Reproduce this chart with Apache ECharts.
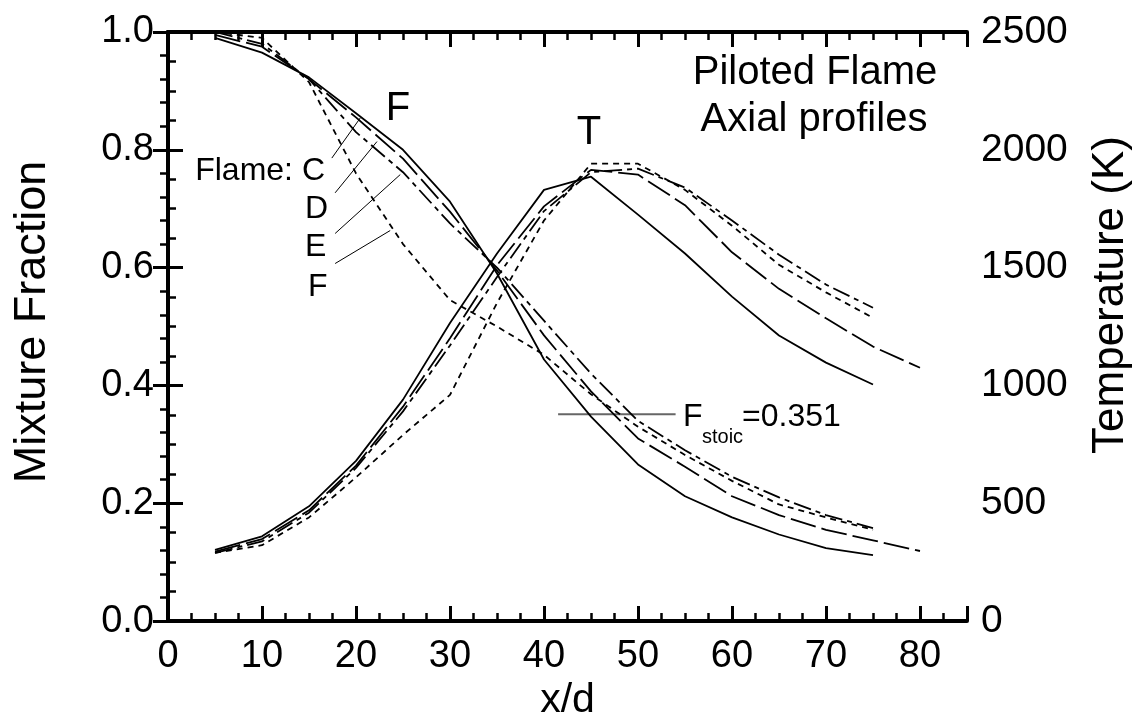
<!DOCTYPE html>
<html>
<head>
<meta charset="utf-8">
<script src="https://cdn.jsdelivr.net/npm/echarts@6/dist/echarts.min.js"></script>
<style>
html,body{margin:0;padding:0;background:#fff;}
#c{width:1136px;height:726px;}
</style>
</head>
<body>
<div id="c"></div>
<script>
// x/d stations
const xd = [5,10,15,20,25,30,35,40,45,50,55,60,65,70,75];
const xdD = [5,10,15,20,25,30,35,40,45,50,55,60,65,70,75,80];

// Mixture fraction profiles (flames C, D, E, F)
const fC = [0.99,0.965,0.923,0.862,0.80,0.712,0.59,0.444,0.347,0.266,0.212,0.176,0.147,0.124,0.112];
const fD = [0.995,0.975,0.92,0.855,0.785,0.695,0.595,0.485,0.39,0.31,0.262,0.212,0.18,0.155,0.137,0.119];
const fE = [1.0,0.98,0.92,0.83,0.762,0.675,0.60,0.51,0.42,0.34,0.29,0.245,0.21,0.18,0.158];
const fF = [1.0,0.99,0.915,0.76,0.64,0.545,0.50,0.452,0.385,0.33,0.282,0.238,0.198,0.176,0.155];

// Temperature profiles (K)
const tC = [302,360,487,680,940,1265,1560,1830,1886,1725,1560,1377,1212,1097,1004];
const tD = [295,348,470,660,910,1200,1510,1760,1915,1895,1765,1565,1410,1285,1165,1075];
const tE = [290,338,460,650,890,1170,1460,1740,1905,1920,1840,1700,1555,1428,1330];
const tF = [290,322,440,610,790,960,1350,1700,1941,1941,1830,1678,1512,1395,1287];

// stoichiometric mixture fraction marker
const fStoic = 0.351;
const stoicX = [41.5, 54];

// label leader lines in data units
const leaderC = [[17.43,0.786],[20.45,0.854]];
const leaderD = [[17.78,0.727],[22.23,0.814]];
const leaderE = [[17.78,0.658],[24.71,0.758]];
const leaderF = [[17.78,0.607],[23.64,0.663]];

// axis tick labels
const xTicks = [0,10,20,30,40,50,60,70,80];

const FONT = 'Liberation Sans, Arial, sans-serif';
const zip = (xs, ys) => xs.map((x,i)=>[x, ys[i]]);

const styles = {
  C: {type:'solid'},
  D: {type:[26,6]},
  E: {type:[18,5,5,5]},
  F: {type:[6,5]}
};

function curve(name, xs, ys, yi, st){
  return {
    name, type:'line', xAxisIndex:0, yAxisIndex:yi, data:zip(xs,ys),
    showSymbol:false, symbol:'none', smooth:false, z:5,
    lineStyle:{color:'#000', width:1.8, type:st.type}
  };
}
function leader(pts){
  return {type:'line', xAxisIndex:0, yAxisIndex:0, data:pts, showSymbol:false, symbol:'none',
    lineStyle:{color:'#000', width:1}, z:4, silent:true};
}

const axisLineStyle = {lineStyle:{color:'#000', width:4}};
const chart = echarts.init(document.getElementById('c'), null, {renderer:'canvas'});

const option = {
  animation:false,
  backgroundColor:'#fff',
  grid:{left:168, top:32, right:169, bottom:104, containLabel:false},
  xAxis:[
    {type:'value', position:'bottom', min:0, max:85, interval:10,
     axisLine:axisLineStyle, axisTick:{inside:true, length:15, lineStyle:{width:3,color:'#000'}},
     splitLine:{show:false},
     axisLabel:{color:'#000', fontSize:38, fontFamily:FONT, margin:16,
       formatter:v=> xTicks.includes(v) ? String(v) : ''},
     name:'x/d', nameLocation:'middle', nameGap:58,
     nameTextStyle:{color:'#000', fontSize:41, fontFamily:FONT}},
    {type:'value', position:'bottom', min:0, max:85, interval:2.5,
     axisLine:{show:false}, axisTick:{inside:true, length:8, lineStyle:{width:2.5,color:'#000'}},
     axisLabel:{show:false}, splitLine:{show:false}},
    {type:'value', position:'top', min:0, max:85, interval:10,
     axisLine:axisLineStyle, axisTick:{inside:true, length:15, lineStyle:{width:3,color:'#000'}},
     axisLabel:{show:false}, splitLine:{show:false}},
    {type:'value', position:'top', min:0, max:85, interval:2.5,
     axisLine:{show:false}, axisTick:{inside:true, length:8, lineStyle:{width:2.5,color:'#000'}},
     axisLabel:{show:false}, splitLine:{show:false}}
  ],
  yAxis:[
    {type:'value', position:'left', min:0, max:1, interval:0.2,
     axisLine:axisLineStyle, axisTick:{inside:true, length:15, lineStyle:{width:3,color:'#000'}},
     minorTick:{show:true, splitNumber:4, length:8, lineStyle:{width:2.5,color:'#000'}},
     splitLine:{show:false}, minorSplitLine:{show:false},
     axisLabel:{color:'#000', fontSize:38, fontFamily:FONT, margin:14, formatter:v=>v.toFixed(1)}},
    {type:'value', position:'right', min:0, max:2500, interval:500,
     axisLine:axisLineStyle, axisTick:{inside:true, length:15, lineStyle:{width:3,color:'#000'}},
     minorTick:{show:true, splitNumber:5, length:8, lineStyle:{width:2.5,color:'#000'}},
     splitLine:{show:false}, minorSplitLine:{show:false},
     axisLabel:{color:'#000', fontSize:39, fontFamily:FONT, margin:14, formatter:v=>String(v)}}
  ],
  series:[
    curve('F C', xd, fC, 0, styles.C),
    curve('F D', xdD, fD, 0, styles.D),
    curve('F E', xd, fE, 0, styles.E),
    curve('F F', xd, fF, 0, styles.F),
    curve('T C', xd, tC, 1, styles.C),
    curve('T D', xdD, tD, 1, styles.D),
    curve('T E', xd, tE, 1, styles.E),
    curve('T F', xd, tF, 1, styles.F),
    leader(leaderC), leader(leaderD), leader(leaderE), leader(leaderF),
    {type:'line', xAxisIndex:0, yAxisIndex:0, data:stoicX.map(x=>[x,fStoic]),
     showSymbol:false, symbol:'none', lineStyle:{color:'#666', width:2}, z:3}
  ],
  graphic:[
    {type:'text', x:33, y:322, rotation:Math.PI/2, style:{text:'Mixture Fraction', x:0, y:0, align:'center', verticalAlign:'middle', fontSize:45, fontFamily:FONT, fill:'#000'}},
    {type:'text', x:1111, y:295, rotation:Math.PI/2, style:{text:'Temperature (K)', x:0, y:0, align:'center', verticalAlign:'middle', fontSize:44, fontFamily:FONT, fill:'#000'}},
    {type:'text', style:{text:'F', x:398, y:109, align:'center', verticalAlign:'middle', fontSize:40, fontFamily:FONT, fill:'#000'}},
    {type:'text', style:{text:'T', x:589, y:133, align:'center', verticalAlign:'middle', fontSize:40, fontFamily:FONT, fill:'#000'}},
    {type:'text', style:{text:'Piloted Flame', x:815, y:73, align:'center', verticalAlign:'middle', fontSize:40, fontFamily:FONT, fill:'#000'}},
    {type:'text', style:{text:'Axial profiles', x:814, y:120, align:'center', verticalAlign:'middle', fontSize:40, fontFamily:FONT, fill:'#000'}},
    {type:'text', style:{text:'Flame: C', x:325, y:171, align:'right', verticalAlign:'middle', fontSize:32, fontFamily:FONT, fill:'#000'}},
    {type:'text', style:{text:'D', x:305, y:209, align:'left', verticalAlign:'middle', fontSize:32, fontFamily:FONT, fill:'#000'}},
    {type:'text', style:{text:'E', x:305, y:247, align:'left', verticalAlign:'middle', fontSize:32, fontFamily:FONT, fill:'#000'}},
    {type:'text', style:{text:'F', x:308, y:287, align:'left', verticalAlign:'middle', fontSize:32, fontFamily:FONT, fill:'#000'}},
    {type:'text', style:{text:'F', x:683, y:417, align:'left', verticalAlign:'middle', fontSize:32, fontFamily:FONT, fill:'#000'}},
    {type:'text', style:{text:'stoic', x:702, y:437, align:'left', verticalAlign:'middle', fontSize:20, fontFamily:FONT, fill:'#000'}},
    {type:'text', style:{text:'=0.351', x:742, y:417, align:'left', verticalAlign:'middle', fontSize:32, fontFamily:FONT, fill:'#000'}}
  ]
};
chart.setOption(option);
</script>
</body>
</html>
